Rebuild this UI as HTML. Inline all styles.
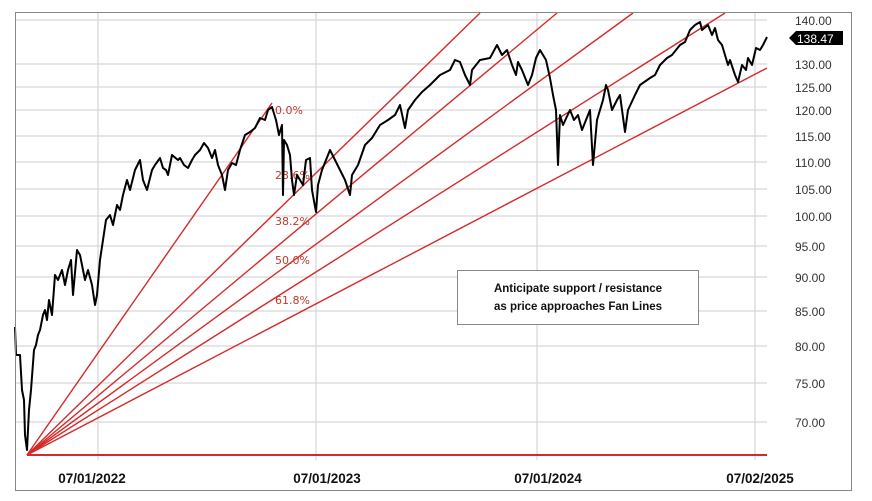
<!DOCTYPE html>
<html><head><meta charset="utf-8"><style>
html,body{margin:0;padding:0;background:#fff;}
svg{display:block;font-family:"Liberation Sans",Arial,sans-serif;}
</style></head><body>
<svg width="872" height="501" viewBox="0 0 872 501" xmlns="http://www.w3.org/2000/svg">
<rect x="0" y="0" width="872" height="501" fill="#fff"/>
<g stroke="#d8d8d8" stroke-width="1.3">
<line x1="15" y1="20" x2="767" y2="20"/><line x1="15" y1="64" x2="767" y2="64"/><line x1="15" y1="87" x2="767" y2="87"/>
<line x1="15" y1="110" x2="767" y2="110"/><line x1="15" y1="136" x2="767" y2="136"/><line x1="15" y1="162" x2="767" y2="162"/>
<line x1="15" y1="189" x2="767" y2="189"/><line x1="15" y1="216" x2="767" y2="216"/><line x1="15" y1="246" x2="767" y2="246"/>
<line x1="15" y1="277" x2="767" y2="277"/><line x1="15" y1="311" x2="767" y2="311"/><line x1="15" y1="346" x2="767" y2="346"/>
<line x1="15" y1="383" x2="767" y2="383"/><line x1="15" y1="422" x2="767" y2="422"/>
<line x1="98" y1="12" x2="98" y2="460"/><line x1="316" y1="12" x2="316" y2="460"/><line x1="537" y1="12" x2="537" y2="460"/><line x1="755" y1="12" x2="755" y2="460"/>
</g>
<g stroke="#d42a2a" stroke-width="1.4" fill="none">
<line x1="27" y1="455" x2="767" y2="455" stroke-width="2"/>
<line x1="27" y1="455" x2="272" y2="103"/>
<line x1="27" y1="455" x2="480" y2="13"/>
<line x1="27" y1="455" x2="557" y2="13"/>
<line x1="27" y1="455" x2="633" y2="13"/>
<line x1="27" y1="455" x2="725" y2="13"/>
<line x1="27" y1="455" x2="767" y2="68"/>
</g>
<g fill="#c0392b" font-size="11" font-family="'DejaVu Sans',sans-serif">
<text x="275" y="114">0.0%</text><text x="275" y="179">23.6%</text><text x="275" y="225">38.2%</text><text x="275" y="264">50.0%</text><text x="275" y="304">61.8%</text>
</g>
<polyline fill="none" stroke="#000" stroke-width="2" stroke-linejoin="round" points="15,327 16,355 20,355 22,390 24,400 25,435 27,450 29,410 31,390 34,350 36,345 38,335 40,330 43,315 45,310 47,320 49,300 52,315 55,275 58,280 62,270 65,285 68,270 71,260 73,295 77,250 80,255 85,280 88,270 92,285 95,305 97,295 100,260 103,240 106,220 110,215 113,225 117,205 120,210 123,195 127,180 130,190 135,170 140,160 143,180 147,190 152,170 155,165 160,158 163,168 166,170 168,175 172,155 178,160 180,158 184,165 188,168 192,160 195,155 200,150 204,143 208,148 212,158 215,150 218,165 222,175 225,190 228,170 232,163 236,165 240,150 245,135 250,132 255,128 260,118 265,120 268,110 272,107 276,120 279,135 282,125 283,195 284,140 287,145 290,155 292,180 294,195 297,175 300,180 303,185 306,160 310,158 312,190 316,212 318,185 322,170 326,160 330,150 335,160 340,170 345,180 350,195 352,175 358,165 365,145 372,138 380,125 388,120 395,115 400,105 405,128 408,110 415,100 422,92 430,85 440,75 450,70 455,60 460,62 465,75 470,85 472,70 480,60 490,58 497,45 502,55 507,50 512,65 516,75 518,62 522,70 528,85 532,75 536,58 540,50 546,60 550,78 553,95 556,110 558,165 560,115 563,125 570,110 574,120 578,115 582,130 586,120 590,110 593,165 597,120 603,100 606,85 608,90 612,110 617,100 620,95 625,132 628,110 635,95 640,85 650,78 655,75 660,65 667,58 672,55 680,45 685,42 690,30 695,25 700,22 702,30 708,25 712,35 715,28 718,40 722,45 725,55 728,65 730,60 735,75 738,82 742,65 746,70 748,58 752,65 756,48 760,50 763,45 767,37"/>
<rect x="15.5" y="12.5" width="836" height="478" fill="none" stroke="#888" stroke-width="1"/>
<rect x="457.5" y="270.5" width="241" height="54" fill="#fff" stroke="#888"/>
<g font-size="11.5" font-weight="bold" fill="#111" text-anchor="middle">
<text x="578" y="292">Anticipate support / resistance</text>
<text x="578" y="310">as price approaches Fan Lines</text>
</g>
<g font-size="12" fill="#333">
<text x="795" y="25">140.00</text><text x="795" y="69">130.00</text><text x="795" y="92">125.00</text>
<text x="795" y="115">120.00</text><text x="795" y="141">115.00</text><text x="795" y="167">110.00</text>
<text x="795" y="194">105.00</text><text x="795" y="221">100.00</text><text x="795" y="251">95.00</text>
<text x="795" y="282">90.00</text><text x="795" y="316">85.00</text><text x="795" y="351">80.00</text>
<text x="795" y="388">75.00</text><text x="795" y="427">70.00</text>
</g>
<polygon points="789,38 796,31 843,31 843,45 796,45" fill="#000"/>
<text x="797" y="43" font-size="12" fill="#fff">138.47</text>
<g font-size="13.5" font-weight="bold" fill="#111" text-anchor="middle">
<text x="92" y="483">07/01/2022</text><text x="327" y="483">07/01/2023</text><text x="548" y="483">07/01/2024</text><text x="760" y="483">07/02/2025</text>
</g>
</svg>
</body></html>
